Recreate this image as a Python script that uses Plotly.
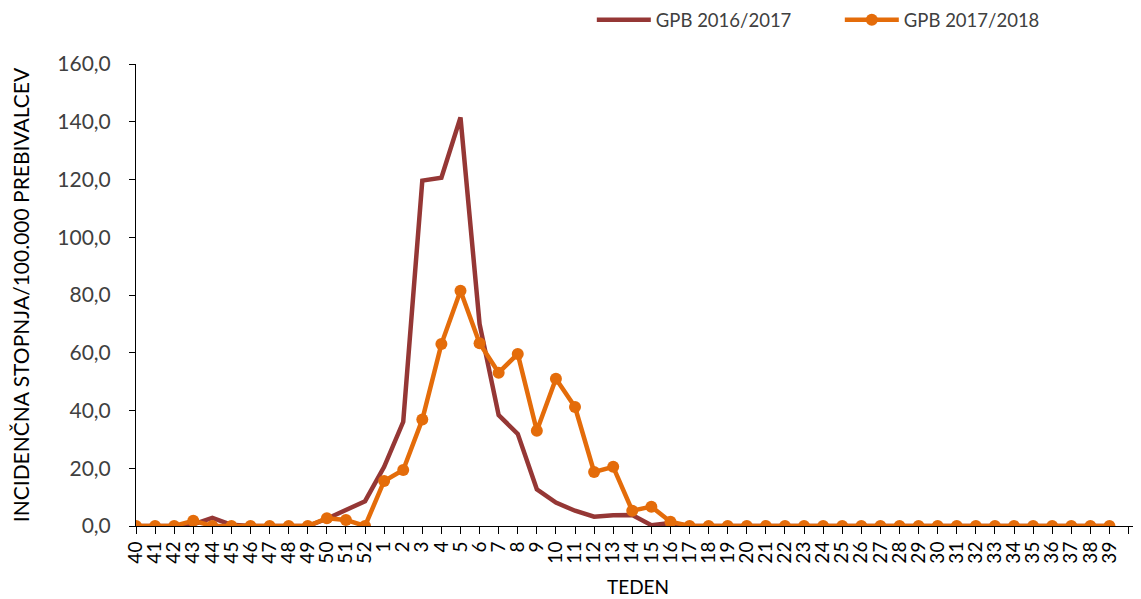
import plotly.graph_objects as go

# Weeks of the season (week 40 through week 39 of the next year)
weeks = [str(w) for w in range(40, 53)] + [str(w) for w in range(1, 40)]

# Incidence per 100,000 inhabitants
gpb_2016_2017 = [
    0.0, 0.0, 0.0, 0.6, 2.8, 0.4, 0.0, 0.0, 0.0, 0.0, 2.5, 5.5, 8.6,
    20.5, 36.1, 119.6, 120.6, 141.5, 70.0, 38.4, 31.9, 12.7, 8.1, 5.3, 3.2,
    3.7, 3.8, 0.3, 1.0, 0.0, 0.0, 0.0, 0.0, 0.0, 0.0, 0.0, 0.0, 0.0, 0.0,
    0.0, 0.0, 0.0, 0.0, 0.0, 0.0, 0.0, 0.0, 0.0, 0.0, 0.0, 0.0, 0.0,
]
gpb_2017_2018 = [
    0.0, 0.0, 0.0, 1.8, 0.0, 0.0, 0.0, 0.0, 0.0, 0.0, 2.7, 2.1, 0.0,
    15.6, 19.4, 36.9, 63.0, 81.5, 63.3, 53.1, 59.6, 33.0, 51.0, 41.2, 18.7,
    20.5, 5.3, 6.7, 1.5, 0.0, 0.0, 0.0, 0.0, 0.0, 0.0, 0.0, 0.0, 0.0, 0.0,
    0.0, 0.0, 0.0, 0.0, 0.0, 0.0, 0.0, 0.0, 0.0, 0.0, 0.0, 0.0, 0.0,
]

y_ticks = [0, 20, 40, 60, 80, 100, 120, 140, 160]

positions = list(range(len(weeks)))
text_color = '#404040'

fig = go.Figure()

fig.add_trace(go.Scatter(
    x=positions,
    y=gpb_2016_2017,
    mode='lines',
    name='GPB 2016/2017',
    line=dict(color='#953735', width=4.5),
))

fig.add_trace(go.Scatter(
    x=positions,
    y=gpb_2017_2018,
    mode='lines+markers',
    name='GPB 2017/2018',
    line=dict(color='#E46C0A', width=4.5),
    marker=dict(color='#E46C0A', size=12),
))

# page body adds an 8px margin, so the figure is 8px smaller than the window
# autoexpand off so the legend near the top edge does not squash the plot
fig.update_layout(
    width=1133,
    height=591,
    margin=dict(l=128, r=1, t=56, b=73, autoexpand=False),
    plot_bgcolor='white',
    paper_bgcolor='white',
    separators=',.',
    font=dict(family='Lato, sans-serif', size=20, color=text_color),
    legend=dict(
        orientation='h',
        x=0.454, xanchor='left',
        y=1.136, yanchor='top',
        itemwidth=54,
        entrywidth=179,
        font=dict(size=18.5, color=text_color),
        bgcolor='rgba(0,0,0,0)',
    ),
    xaxis=dict(
        range=[0, 52.6],
        tickmode='array',
        tickvals=positions + [len(weeks)],
        ticktext=weeks + [''],
        tickangle=-90,
        ticks='outside',
        ticklen=7,
        tickcolor='black',
        tickfont=dict(size=19, color='black'),
        showline=True,
        linecolor='black',
        linewidth=1,
        showgrid=False,
        zeroline=False,
        title=dict(text='TEDEN', font=dict(size=19, color='black'), standoff=18),
    ),
    yaxis=dict(
        range=[0, 160],
        tickmode='array',
        tickvals=y_ticks,
        tickformat='.1f',
        ticks='outside',
        ticklen=6,
        tickcolor='black',
        ticklabelstandoff=14,
        tickfont=dict(size=21, color=text_color),
        showline=True,
        linecolor='black',
        linewidth=1,
        showgrid=False,
        zeroline=False,
        title=dict(
            text='INCIDENČNA STOPNJA/100.000 PREBIVALCEV',
            font=dict(size=21, color='black'),
            standoff=28,
        ),
    ),
)

fig.write_html("out.html")
